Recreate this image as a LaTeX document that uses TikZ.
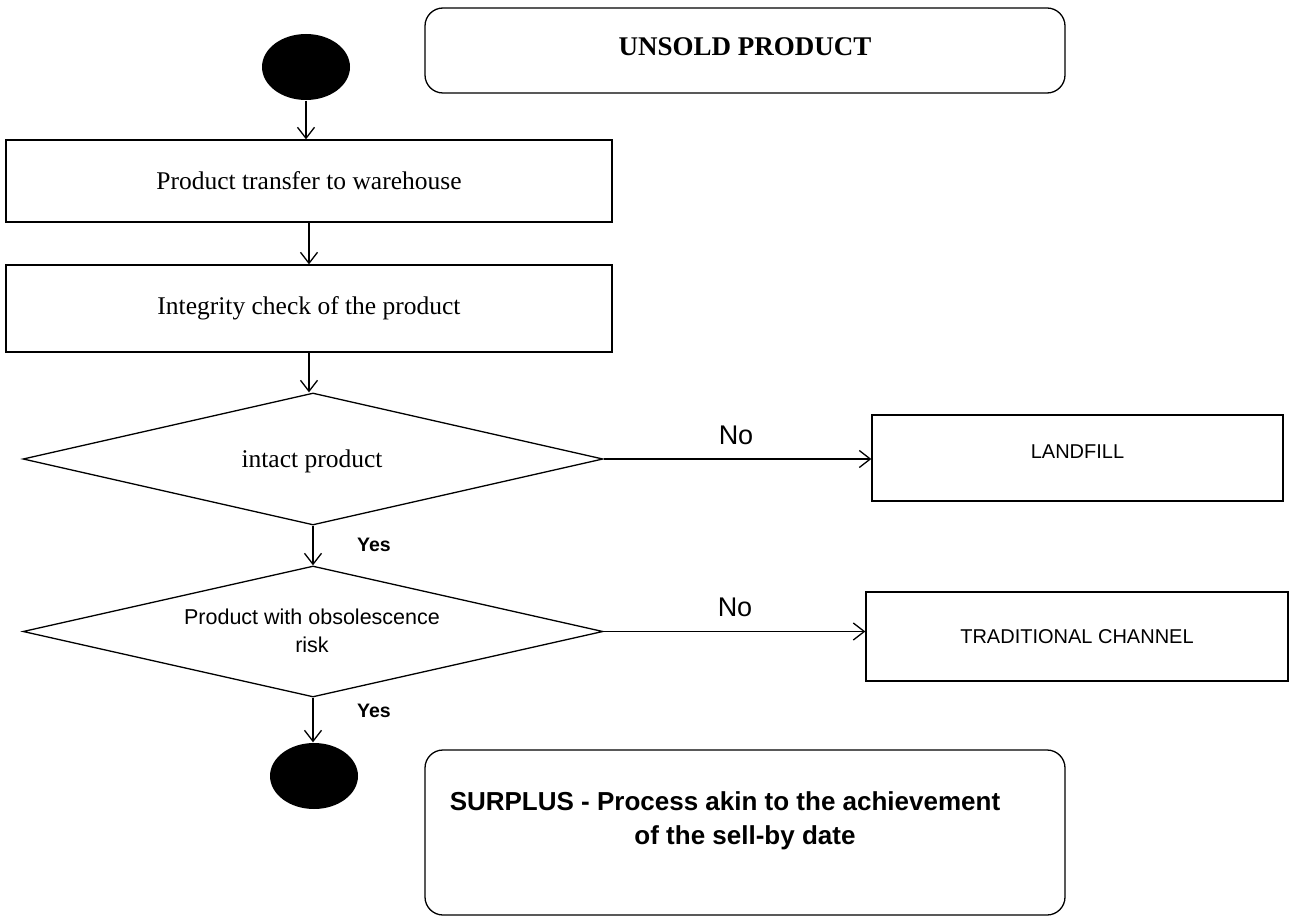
\documentclass[tikz,border=0pt]{standalone}
\usepackage{fontspec}
\setmainfont{Liberation Serif}
\newfontfamily\labelsans{Liberation Sans}
\usetikzlibrary{shapes.geometric,arrows.meta}
\begin{document}
\begin{tikzpicture}[x=1pt,y=-1pt,
  line width=1.3pt,
  flow/.style={draw, -{Straight Barb[length=11pt,width=17pt,line width=1.3pt]}},
  procbox/.style={draw, rectangle, inner sep=0pt, font=\fontsize{25.5}{30}\selectfont},
  sidebox/.style={draw, rectangle, inner sep=0pt, font=\labelsans\fontsize{20}{24}\selectfont},
  roundbox/.style={draw, rectangle, rounded corners=18pt, inner sep=0pt, align=center},
  decision/.style={draw, diamond, inner sep=0pt},
  terminal/.style={fill=black, ellipse, inner sep=0pt, minimum width=88pt, minimum height=66pt},
  nolabel/.style={font=\labelsans\fontsize{27}{32}\selectfont},
  yeslabel/.style={font=\labelsans\bfseries\fontsize{19.5}{23}\selectfont}]
\useasboundingbox (0,0) rectangle (1293,917);

% start and end markers
\node[terminal] (start) at (306,67) {};
\node[terminal] (stop) at (314,776) {};

% title boxes
\node[roundbox, minimum width=640pt, minimum height=85pt,
      font=\bfseries\fontsize{27}{32}\selectfont] (title) at (745,50.5) {\raisebox{7pt}{UNSOLD PRODUCT}};
\node[roundbox, minimum width=640pt, minimum height=165pt,
      font=\labelsans\bfseries\fontsize{26}{34}\selectfont] (surplus) at (745,832.5)
      {SURPLUS - Process akin to the achievement\hspace*{40pt}\\of the sell-by date\\[-6pt]};

% process steps
\node[procbox, minimum width=606pt, minimum height=82pt] (transfer) at (309,181) {Product transfer to warehouse};
\node[procbox, minimum width=606pt, minimum height=87pt] (check) at (309,308.5) {\raisebox{-4pt}{Integrity check of the product}};

% decisions
\node[decision, minimum width=580pt, minimum height=132pt] (intact) at (313,459) {};
\node[font=\fontsize{25.5}{30}\selectfont] (intacttext) at (312,461) {intact product};
\node[decision, minimum width=580pt, minimum height=131pt] (obsolete) at (313,631.5) {};
\node[font=\labelsans\fontsize{21.5}{28}\selectfont, align=center] (obstext) at (312,631) {Product with obsolescence\\risk};

% outcomes
\node[sidebox, minimum width=411pt, minimum height=86pt] (landfill) at (1077.5,458) {\raisebox{12pt}{LANDFILL}};
\node[sidebox, minimum width=422pt, minimum height=89pt] (traditional) at (1077,636.5) {\raisebox{-2pt}{TRADITIONAL CHANNEL}};

% connectors
\draw[flow] (start.south) -- (start.south |- transfer.north);
\draw[flow] (transfer.south) -- (transfer.south |- check.north);
\draw[flow] (check.south) -- (check.south |- intact.north);
\draw[flow] (intact.south) -- (obsolete.north);
\draw[flow] (obsolete.south) -- (obsolete.south |- stop.north);
\draw[flow] (intact.east) -- (landfill.west |- intact.east);
\draw[flow] (obsolete.east) -- (traditional.west |- obsolete.east);

% branch labels
\node[nolabel] (no1) at (736,435) {No};
\node[nolabel] (no2) at (735,607) {No};
\node[yeslabel] (yes1) at (374,545) {Yes};
\node[yeslabel] (yes2) at (374,711) {Yes};
\end{tikzpicture}
\end{document}
